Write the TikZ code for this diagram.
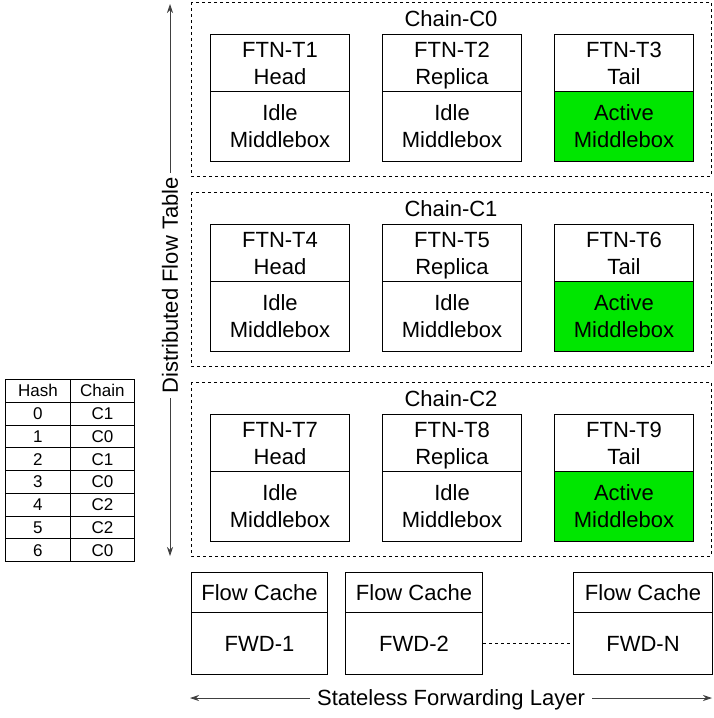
\documentclass[tikz,border=0pt]{standalone}
\usepackage{fontspec}
\setmainfont{Liberation Sans}
\usetikzlibrary{arrows.meta}
\definecolor{actgreen}{RGB}{0,230,0}
\newcommand{\bs}{\rule[-5.6pt]{0pt}{27pt}}
\newcommand{\ts}{\rule[-4pt]{0pt}{20pt}}
\newcommand{\twol}[2]{\bs #1\\\bs #2}
\begin{document}
\begin{tikzpicture}[x=1pt,y=-1pt,
  big/.style={font=\fontsize{22}{27}\selectfont},
  cell/.style={draw,line width=1pt,anchor=north west,inner sep=0pt,align=center,big},
  chainbox/.style={draw,dashed,line width=0.8pt},
  tcell/.style={draw,line width=0.8pt,anchor=north west,minimum width=65pt,minimum height=22.75pt,inner sep=0pt,font=\fontsize{17}{20}\selectfont},
  tcell2/.style={tcell,minimum width=64pt},
  biarrow/.style={{Stealth[length=9pt,width=6pt]}-{Stealth[length=9pt,width=6pt]},line width=0.8pt,draw=black!75}
]
\useasboundingbox (0,0) rectangle (713,718);

% chains
\foreach \i/\a/\b/\c in {0/1/2/3,1/4/5/6,2/7/8/9}{
  \pgfmathsetmacro{\dy}{190*\i}
  \draw[chainbox] (191,2+\dy) rectangle (711,176+\dy);
  \node[big] (chain\i) at (451,19+\dy) {\bs Chain-C\i};
  \node[cell,minimum width=139pt,minimum height=57pt] (t\a h) at (210,34+\dy) {\twol{FTN-T\a}{Head}};
  \node[cell,minimum width=139pt,minimum height=70pt] (t\a m) at (210,91+\dy) {\twol{Idle}{Middlebox}};
  \node[cell,minimum width=139pt,minimum height=57pt] (t\b h) at (382,34+\dy) {\twol{FTN-T\b}{Replica}};
  \node[cell,minimum width=139pt,minimum height=70pt] (t\b m) at (382,91+\dy) {\twol{Idle}{Middlebox}};
  \node[cell,minimum width=139pt,minimum height=57pt] (t\c h) at (554,34+\dy) {\twol{FTN-T\c}{Tail}};
  \node[cell,minimum width=139pt,minimum height=70pt,fill=actgreen] (t\c m) at (554,91+\dy) {\twol{Active}{Middlebox}};
}

% distributed flow table arrow
\coordinate (vt) at (170,4);
\coordinate (vb) at (170,556);
\draw[biarrow] (vb) -- node[pos=0.49,rotate=90,fill=white,inner xsep=4pt,inner ysep=2pt,big,text=black] (dft) {\bs Distributed Flow Table} (vt);

% forwarding layer
\node[cell,minimum width=136pt,minimum height=40pt] (fc1) at (191,572) {\bs Flow Cache};
\node[cell,minimum width=136pt,minimum height=62pt] (fwd1) at (191,612) {\bs FWD-1};
\node[cell,minimum width=137pt,minimum height=40pt] (fc2) at (345,572) {\bs Flow Cache};
\node[cell,minimum width=137pt,minimum height=62pt] (fwd2) at (345,612) {\bs FWD-2};
\node[cell,minimum width=139pt,minimum height=40pt] (fcN) at (573,572) {\bs Flow Cache};
\node[cell,minimum width=139pt,minimum height=62pt] (fwdN) at (573,612) {\bs FWD-N};
\draw[dashed,line width=0.8pt] (fwd2.east) -- (fwdN.west);

\coordinate (hl) at (190,698);
\coordinate (hr) at (712,698);
\draw[biarrow] (hl) -- node[pos=0.5,fill=white,inner xsep=7pt,inner ysep=1pt,big,text=black] (sfl) {\bs Stateless Forwarding Layer} (hr);

% hash table
\node[tcell] (h0) at (5,379) {\ts Hash};
\node[tcell2] (c0) at (70,379) {\ts Chain};
\foreach \k/\v in {0/C1,1/C0,2/C1,3/C0,4/C2,5/C2,6/C0}{
  \node[tcell] (hk\k) at (5,{379+22.75*(\k+1)}) {\ts\k};
  \node[tcell2] (cv\k) at (70,{379+22.75*(\k+1)}) {\ts\v};
}
\end{tikzpicture}
\end{document}
